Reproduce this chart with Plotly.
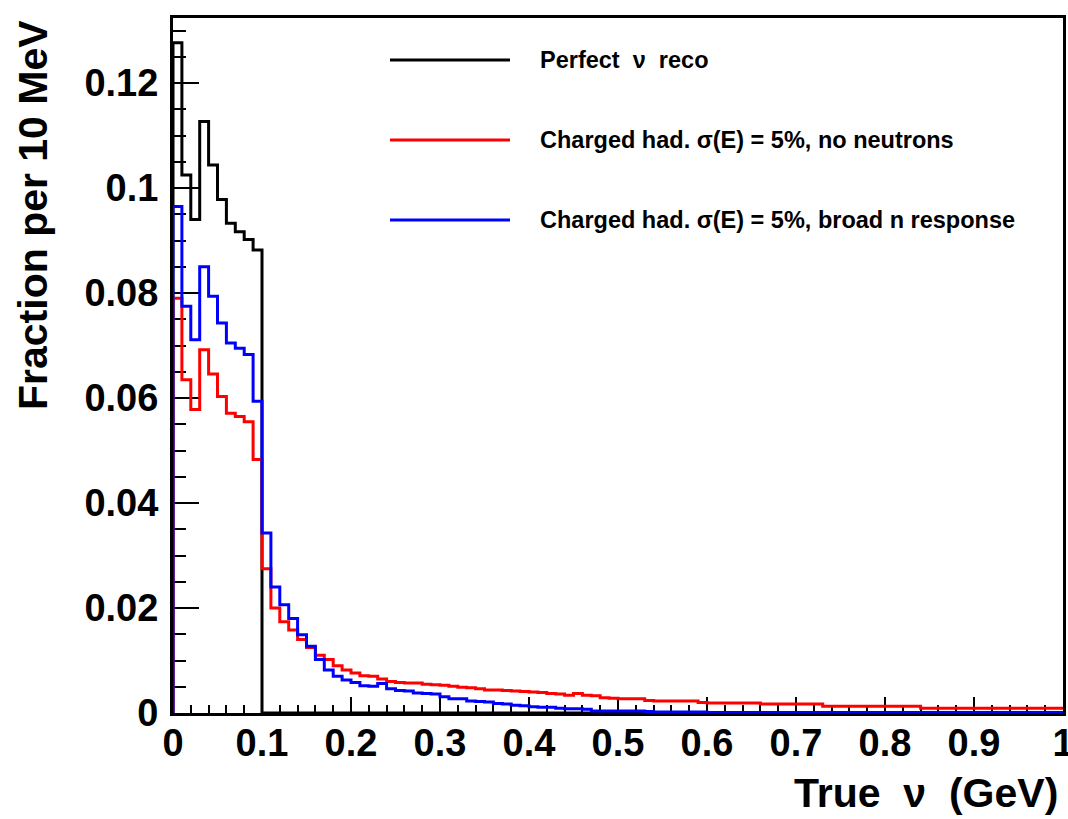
import numpy as np
import plotly.graph_objects as go

# ---------------- data (fraction per 10 MeV bin, bins from 0 to 1 GeV) ----------------
bin_width = 0.01
n_bins = 100

perfect_reco = [
    0.1277, 0.1025, 0.0940, 0.1127, 0.1044, 0.0978, 0.0933, 0.0917, 0.0902, 0.0882,
    0.0, 0.0, 0.0, 0.0, 0.0, 0.0, 0.0, 0.0, 0.0, 0.0,
    0.0, 0.0, 0.0, 0.0, 0.0, 0.0, 0.0, 0.0, 0.0, 0.0,
    0.0, 0.0, 0.0, 0.0, 0.0, 0.0, 0.0, 0.0, 0.0, 0.0,
    0.0, 0.0, 0.0, 0.0, 0.0, 0.0, 0.0, 0.0, 0.0, 0.0,
    0.0, 0.0, 0.0, 0.0, 0.0, 0.0, 0.0, 0.0, 0.0, 0.0,
    0.0, 0.0, 0.0, 0.0, 0.0, 0.0, 0.0, 0.0, 0.0, 0.0,
    0.0, 0.0, 0.0, 0.0, 0.0, 0.0, 0.0, 0.0, 0.0, 0.0,
    0.0, 0.0, 0.0, 0.0, 0.0, 0.0, 0.0, 0.0, 0.0, 0.0,
    0.0, 0.0, 0.0, 0.0, 0.0, 0.0, 0.0, 0.0, 0.0, 0.0,
]

no_neutrons = [
    0.0790, 0.0635, 0.0578, 0.0692, 0.0646, 0.0603, 0.0571, 0.0565, 0.0555, 0.0483,
    0.0275, 0.0200, 0.0174, 0.0158, 0.0140, 0.0125, 0.0110, 0.0102, 0.0090, 0.0082,
    0.0076, 0.0071, 0.0070, 0.0065, 0.0060, 0.0058, 0.0057, 0.0057, 0.0055, 0.0054,
    0.0053, 0.0051, 0.0049, 0.0048, 0.0046, 0.0044, 0.0044, 0.0043, 0.0042, 0.0041,
    0.0040, 0.0039, 0.0037, 0.0036, 0.0034, 0.0037, 0.0034, 0.0033, 0.0029, 0.0028,
    0.0027, 0.0027, 0.0027, 0.0024, 0.0023, 0.0023, 0.0023, 0.0023, 0.0023, 0.0020,
    0.0019, 0.0019, 0.0019, 0.0019, 0.0019, 0.0019, 0.0017, 0.0017, 0.0017, 0.0017,
    0.0017, 0.0017, 0.0017, 0.0013, 0.0013, 0.0013, 0.0013, 0.0013, 0.0013, 0.0013,
    0.0013, 0.0013, 0.0013, 0.0013, 0.0009, 0.0009, 0.0009, 0.0009, 0.0009, 0.0009,
    0.0009, 0.0009, 0.0009, 0.0009, 0.0009, 0.0009, 0.0009, 0.0009, 0.0009, 0.0009,
]

broad_n = [
    0.0965, 0.0775, 0.0711, 0.0850, 0.0794, 0.0743, 0.0705, 0.0695, 0.0683, 0.0594,
    0.0343, 0.0240, 0.0206, 0.0180, 0.0149, 0.0127, 0.0102, 0.0082, 0.0070, 0.0063,
    0.0058, 0.0052, 0.0051, 0.0056, 0.0046, 0.0043, 0.0042, 0.0038, 0.0037, 0.0036,
    0.0031, 0.0027, 0.0027, 0.0023, 0.0022, 0.0021, 0.0018, 0.0017, 0.0015, 0.0014,
    0.0012, 0.0011, 0.0011, 0.0009, 0.0008, 0.0008, 0.0007, 0.0004, 0.0004, 0.0004,
    0.0004, 0.0004, 0.0004, 0.0003, 0.0002, 0.0002, 0.0002, 0.0002, 0.0002, 0.0002,
    0.0001, 0.0001, 0.0001, 0.0001, 0.0001, 0.0001, 0.0001, 0.0001, 0.0001, 0.0001,
    0.0001, 0.0001, 0.0001, 0.0001, 0.0001, 0.0001, 0.0001, 0.0001, 0.0001, 0.0001,
    0.0001, 0.0001, 0.0001, 0.0001, 0.0001, 0.0001, 0.0001, 0.0001, 0.0001, 0.0001,
    0.0001, 0.0001, 0.0001, 0.0001, 0.0001, 0.0001, 0.0001, 0.0001, 0.0001, 0.0001,
]

series_names = [
    "Perfect  \u03bd  reco",
    "Charged had. \u03c3(E) = 5%, no neutrons",
    "Charged had. \u03c3(E) = 5%, broad n response",
]
series_colors = ["#000000", "#ff0000", "#0000ff"]
series_values = [perfect_reco, no_neutrons, broad_n]

x_title = "True  \u03bd  (GeV)"
y_title = "Fraction per 10 MeV"
x_range = [0, 1]
y_range = [0, 0.1324]

# ---------------- figure ----------------
W, H = 1068, 819
ML, MR, MT, MB = 173, 5, 18, 106
PW, PH = W - ML - MR, H - MT - MB

edges = np.arange(n_bins + 1) * bin_width

fig = go.Figure()
for name, color, vals in zip(series_names, series_colors, series_values):
    v = np.asarray(vals, dtype=float)
    xs = np.concatenate([[edges[0]], edges])
    ys = np.concatenate([[0.0], v, [v[-1]]])
    fig.add_trace(go.Scatter(
        x=xs, y=ys, mode="lines", name=name,
        line=dict(color=color, width=3, shape="hv"),
        hoverinfo="skip",
    ))

FAM = "Liberation Sans, Arial, Helvetica, sans-serif"
tick_font = dict(family=FAM, size=38, color="black", weight="bold")
title_font = dict(family=FAM, size=41, color="black", weight="bold")
leg_font = dict(family=FAM, size=23.5, color="black", weight="bold")

fig.update_xaxes(
    range=x_range, showgrid=False, zeroline=False,
    showline=True, linecolor="black", linewidth=3, mirror=True,
    ticks="inside", ticklen=16, tickwidth=2, tickcolor="black",
    dtick=0.1, tick0=0,
    minor=dict(dtick=0.02, ticks="inside", ticklen=8, tickwidth=2, tickcolor="black"),
    tickfont=tick_font, ticklabelstandoff=-6, ticklabeloverflow="allow",
    automargin=False, layer="below traces",
)
fig.update_yaxes(
    range=y_range, showgrid=False, zeroline=False,
    showline=True, linecolor="black", linewidth=3, mirror=True,
    ticks="inside", ticklen=26, tickwidth=2, tickcolor="black",
    dtick=0.02, tick0=0,
    minor=dict(dtick=0.005, ticks="inside", ticklen=13, tickwidth=2, tickcolor="black"),
    tickfont=tick_font, ticklabelstandoff=4,
    automargin=False, layer="below traces",
)

def px_x(p):
    return (p - ML) / PW

def px_y(p):
    return (H - MB - p) / PH

annotations = [
    dict(text=y_title, textangle=-90, xref="paper", yref="paper",
         x=px_x(33), y=px_y(18), xanchor="center", yanchor="top",
         showarrow=False, font=title_font),
    dict(text=x_title, xref="paper", yref="paper",
         x=px_x(1060), y=px_y(818), xanchor="right", yanchor="bottom",
         showarrow=False, font=title_font),
]
shapes = []
legend_rows_px = [60, 140, 220]
for name, color, row in zip(series_names, series_colors, legend_rows_px):
    shapes.append(dict(type="line", xref="paper", yref="paper",
                       x0=px_x(390), x1=px_x(510), y0=px_y(row), y1=px_y(row),
                       line=dict(color=color, width=3)))
    annotations.append(dict(text=name, xref="paper", yref="paper",
                            x=px_x(538), y=px_y(row), xanchor="left", yanchor="middle",
                            showarrow=False, font=leg_font))

fig.update_layout(
    width=W, height=H,
    margin=dict(l=ML, r=MR, t=MT, b=MB, autoexpand=False),
    paper_bgcolor="white", plot_bgcolor="white",
    showlegend=False,
    annotations=annotations, shapes=shapes,
)

fig.write_html("out.html")
